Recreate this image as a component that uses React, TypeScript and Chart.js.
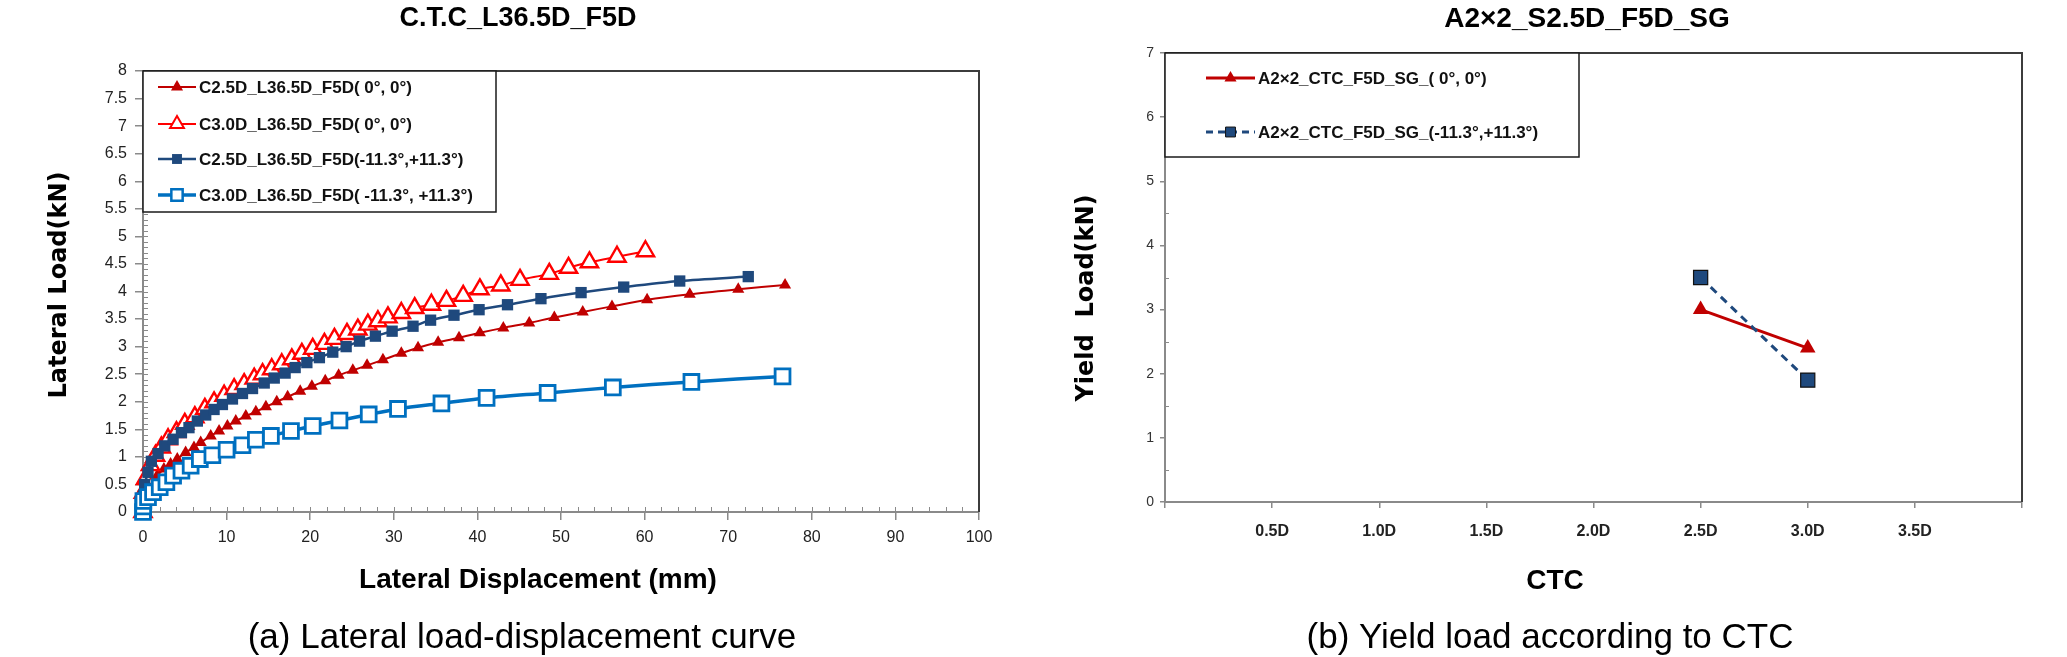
import React, { useEffect, useRef } from 'react';
import { Chart, registerables } from 'chart.js';

Chart.register(...registerables);

// ---- (a) lateral load–displacement curves: displacement (mm) / load (kN) ----
const seriesLabelsA = [
  'C2.5D_L36.5D_F5D( 0°, 0°)',
  'C3.0D_L36.5D_F5D( 0°, 0°)',
  'C2.5D_L36.5D_F5D(-11.3°,+11.3°)',
  'C3.0D_L36.5D_F5D( -11.3°, +11.3°)',
];

const dispC25Flat = [0, 0.05, 0.2, 0.5, 1.1, 1.7, 2.5, 3.3, 4.1, 5.1, 6.1, 6.9, 8.1, 9.1, 10.1, 11.1, 12.3, 13.5, 14.7, 16.0, 17.3, 18.8, 20.2, 21.8, 23.4, 25.1, 26.8, 28.7, 30.9, 32.9, 35.3, 37.8, 40.3, 43.1, 46.2, 49.2, 52.6, 56.1, 60.3, 65.4, 71.2, 76.8];
const loadC25Flat = [0, 0.18, 0.30, 0.42, 0.54, 0.66, 0.78, 0.87, 0.96, 1.08, 1.17, 1.26, 1.38, 1.47, 1.56, 1.65, 1.74, 1.82, 1.91, 2.00, 2.09, 2.19, 2.28, 2.38, 2.48, 2.57, 2.66, 2.76, 2.88, 2.98, 3.08, 3.16, 3.25, 3.34, 3.43, 3.53, 3.63, 3.73, 3.85, 3.95, 4.04, 4.12];

const dispC30Flat = [0, 0.05, 0.3, 0.9, 1.5, 2.2, 3.0, 4.0, 5.0, 6.2, 7.4, 8.5, 9.7, 10.9, 12.1, 13.3, 14.3, 15.4, 16.6, 17.8, 19.0, 20.3, 21.7, 22.9, 24.4, 25.7, 26.9, 28.1, 29.3, 30.9, 32.5, 34.5, 36.3, 38.3, 40.3, 42.8, 45.1, 48.6, 50.9, 53.4, 56.7, 60.1];
const loadC30Flat = [0, 0.35, 0.60, 0.85, 1.02, 1.17, 1.32, 1.45, 1.60, 1.72, 1.87, 1.99, 2.11, 2.23, 2.32, 2.42, 2.50, 2.59, 2.68, 2.77, 2.87, 2.96, 3.05, 3.14, 3.23, 3.31, 3.40, 3.46, 3.53, 3.61, 3.70, 3.76, 3.83, 3.92, 4.04, 4.11, 4.21, 4.32, 4.43, 4.53, 4.63, 4.73];

const dispC25Tilt = [0, 0.02, 0.05, 0.2, 0.6, 1.0, 1.8, 2.6, 3.6, 4.6, 5.5, 6.5, 7.5, 8.5, 9.5, 10.7, 11.9, 13.1, 14.5, 15.7, 17.0, 18.2, 19.6, 21.1, 22.7, 24.3, 25.9, 27.8, 29.8, 32.3, 34.4, 37.2, 40.2, 43.6, 47.6, 52.4, 57.5, 64.2, 72.4];
const loadC25Tilt = [0, 0.15, 0.30, 0.50, 0.72, 0.92, 1.06, 1.20, 1.32, 1.44, 1.53, 1.65, 1.76, 1.86, 1.95, 2.05, 2.15, 2.24, 2.34, 2.43, 2.52, 2.62, 2.71, 2.80, 2.90, 3.00, 3.10, 3.19, 3.28, 3.37, 3.48, 3.57, 3.67, 3.76, 3.87, 3.98, 4.08, 4.19, 4.27];

const dispC30Tilt = [0, 0.02, 0.05, 0.6, 1.2, 2.0, 2.8, 3.6, 4.6, 5.7, 6.8, 8.3, 10.0, 11.9, 13.5, 15.3, 17.7, 20.3, 23.5, 27.0, 30.5, 35.7, 41.1, 48.4, 56.2, 65.6, 76.5];
const loadC30Tilt = [0, 0.10, 0.20, 0.27, 0.36, 0.45, 0.54, 0.66, 0.75, 0.84, 0.96, 1.03, 1.13, 1.21, 1.31, 1.38, 1.47, 1.56, 1.66, 1.77, 1.87, 1.97, 2.07, 2.16, 2.26, 2.36, 2.46];

// ---- (b) yield load versus centre-to-centre spacing ----
const seriesLabelsB = ['A2×2_CTC_F5D_SG_( 0°, 0°)', 'A2×2_CTC_F5D_SG_(-11.3°,+11.3°)'];
const ctcSpacing = [2.5, 3.0];
const yieldFlat = [3.0, 2.4];
const yieldTilt = [3.5, 1.9];

const FONT = "'Liberation Sans', Arial, sans-serif";
const HEAVY = "'DejaVu Sans', Verdana, sans-serif";

const DARK_RED = '#c00000';
const RED = '#ff0000';
const NAVY = '#1f497d';
const BLUE = '#0070c0';

const zip = (xs: number[], ys: number[]) => xs.map((x, i) => ({ x, y: ys[i] }));

type Marker = 'triangle' | 'rect';

function drawMarker(ctx: CanvasRenderingContext2D, kind: Marker, x: number, y: number, r: number, fill: string, stroke: string, lw: number) {
  ctx.save();
  ctx.beginPath();
  if (kind === 'triangle') {
    const dx = r * Math.sin(Math.PI / 3);
    const dy = r * Math.cos(Math.PI / 3);
    ctx.moveTo(x - dx, y + dy);
    ctx.lineTo(x, y - r);
    ctx.lineTo(x + dx, y + dy);
    ctx.closePath();
  } else {
    const s = r * Math.SQRT1_2;
    ctx.rect(x - s, y - s, 2 * s, 2 * s);
  }
  ctx.fillStyle = fill;
  ctx.fill();
  if (lw > 0) {
    ctx.lineWidth = lw;
    ctx.strokeStyle = stroke;
    ctx.stroke();
  }
  ctx.restore();
}

type TextSpec = { text: string; x: number; y: number; font: string; rotate?: boolean; color?: string };
type LegendItem = { label: string; color: string; lineWidth: number; dash: number[]; marker: Marker; fill: string; stroke: string; radius: number; markerLine: number };
type LegendSpec = { box: [number, number, number, number]; rows: number[]; lineX: [number, number]; textX: number; font: string; items: LegendItem[] };
type MinorSpec = { axis: 'x' | 'y'; from: number; to: number; step: number; len: number };

const decorPlugin = (minors: MinorSpec[], legend: LegendSpec, texts: TextSpec[]) => ({
  id: 'decor',
  beforeDatasetsDraw(chart: any) {
    const { ctx, chartArea: a, scales } = chart;
    ctx.save();
    ctx.strokeStyle = '#8a8a8a';
    ctx.lineWidth = 1;
    minors.forEach((m) => {
      const sc = scales[m.axis];
      const n = Math.round((m.to - m.from) / m.step);
      for (let i = 0; i <= n; i++) {
        const p = Math.round(sc.getPixelForValue(m.from + i * m.step)) + 0.5;
        ctx.beginPath();
        if (m.axis === 'y') {
          ctx.moveTo(a.left, p);
          ctx.lineTo(a.left + m.len, p);
        } else {
          ctx.moveTo(p, a.bottom);
          ctx.lineTo(p, a.bottom - m.len);
        }
        ctx.stroke();
      }
    });
    ctx.strokeStyle = '#3c3c3c';
    ctx.lineWidth = 2;
    ctx.beginPath();
    ctx.moveTo(a.left, a.top);
    ctx.lineTo(a.right, a.top);
    ctx.lineTo(a.right, a.bottom);
    ctx.stroke();
    ctx.restore();
  },
  afterDraw(chart: any) {
    const ctx: CanvasRenderingContext2D = chart.ctx;
    // legend box
    const [l, t, r, b] = legend.box;
    ctx.save();
    ctx.fillStyle = '#ffffff';
    ctx.fillRect(l, t, r - l, b - t);
    ctx.strokeStyle = '#1a1a1a';
    ctx.lineWidth = 1.5;
    ctx.strokeRect(l, t, r - l, b - t);
    legend.items.forEach((it, i) => {
      const y = legend.rows[i];
      ctx.save();
      ctx.strokeStyle = it.color;
      ctx.lineWidth = it.lineWidth;
      ctx.setLineDash(it.dash);
      ctx.beginPath();
      ctx.moveTo(legend.lineX[0], y);
      ctx.lineTo(legend.lineX[1], y);
      ctx.stroke();
      ctx.restore();
      drawMarker(ctx, it.marker, (legend.lineX[0] + legend.lineX[1]) / 2, y, it.radius, it.fill, it.stroke, it.markerLine);
      ctx.font = legend.font;
      ctx.fillStyle = '#111';
      ctx.textAlign = 'left';
      ctx.textBaseline = 'middle';
      ctx.fillText(it.label, legend.textX, y + 1);
    });
    ctx.restore();
    // titles and captions
    texts.forEach((tx) => {
      ctx.save();
      ctx.font = tx.font;
      ctx.fillStyle = tx.color ?? '#000';
      ctx.textAlign = 'center';
      ctx.textBaseline = 'middle';
      ctx.translate(tx.x, tx.y);
      if (tx.rotate) ctx.rotate(-Math.PI / 2);
      ctx.fillText(tx.text, 0, 0);
      ctx.restore();
    });
  },
});

const plainNumber = (v: any) => String(Number(v));

function LoadDisplacementChart() {
  const ref = useRef<HTMLCanvasElement>(null);
  useEffect(() => {
    const canvas = ref.current!;
    const legend: LegendSpec = {
      box: [143, 71, 496, 212],
      rows: [87, 124, 159, 195],
      lineX: [158, 196],
      textX: 199,
      font: `bold 17px ${FONT}`,
      items: [
        { label: seriesLabelsA[0], color: DARK_RED, lineWidth: 2, dash: [], marker: 'triangle', fill: DARK_RED, stroke: DARK_RED, radius: 7, markerLine: 0 },
        { label: seriesLabelsA[1], color: RED, lineWidth: 2, dash: [], marker: 'triangle', fill: '#fff', stroke: RED, radius: 8, markerLine: 2 },
        { label: seriesLabelsA[2], color: NAVY, lineWidth: 2.5, dash: [], marker: 'rect', fill: NAVY, stroke: NAVY, radius: 7, markerLine: 0 },
        { label: seriesLabelsA[3], color: BLUE, lineWidth: 3.5, dash: [], marker: 'rect', fill: '#fff', stroke: BLUE, radius: 8, markerLine: 2.5 },
      ],
    };
    const texts: TextSpec[] = [
      { text: 'C.T.C_L36.5D_F5D', x: 518, y: 19, font: `bold 27px ${FONT}` },
      { text: 'Lateral Load(kN)', x: 60, y: 285, font: `bold 24px ${HEAVY}`, rotate: true },
      { text: 'Lateral Displacement (mm)', x: 538, y: 580, font: `bold 28px ${FONT}` },
      { text: '(a) Lateral load-displacement curve', x: 522, y: 638, font: `35px ${FONT}` },
    ];
    const minors: MinorSpec[] = [
      { axis: 'y', from: 0, to: 8, step: 0.1, len: 5 },
      { axis: 'x', from: 0, to: 100, step: 2, len: 5 },
    ];
    const chart = new Chart(canvas, {
      type: 'line',
      data: {
        datasets: [
          { label: seriesLabelsA[0], data: zip(dispC25Flat, loadC25Flat), borderColor: DARK_RED, backgroundColor: DARK_RED, borderWidth: 2, pointStyle: 'triangle', pointRadius: 7, pointBorderWidth: 0, pointBackgroundColor: DARK_RED, pointBorderColor: DARK_RED, tension: 0.3, order: 4 },
          { label: seriesLabelsA[1], data: zip(dispC30Flat, loadC30Flat), borderColor: RED, backgroundColor: '#fff', borderWidth: 2, pointStyle: 'triangle', pointRadius: 10, pointBorderWidth: 2.4, pointBackgroundColor: '#fff', pointBorderColor: RED, tension: 0.3, order: 3 },
          { label: seriesLabelsA[2], data: zip(dispC25Tilt, loadC25Tilt), borderColor: NAVY, backgroundColor: NAVY, borderWidth: 2.5, pointStyle: 'rect', pointRadius: 8, pointBorderWidth: 0, pointBackgroundColor: NAVY, pointBorderColor: NAVY, tension: 0.3, order: 2 },
          { label: seriesLabelsA[3], data: zip(dispC30Tilt, loadC30Tilt), borderColor: BLUE, backgroundColor: '#fff', borderWidth: 3.5, pointStyle: 'rect', pointRadius: 10.5, pointBorderWidth: 2.8, pointBackgroundColor: '#fff', pointBorderColor: BLUE, tension: 0.3, order: 1 },
        ] as any,
      },
      options: {
        responsive: false,
        animation: false,
        devicePixelRatio: 1,
        clip: false as any,
        layout: { padding: { top: 71, right: 51, left: 0, bottom: 0 } },
        plugins: { legend: { display: false }, title: { display: false }, tooltip: { enabled: false } },
        scales: {
          x: {
            type: 'linear', min: 0, max: 100,
            afterFit: (s: any) => { s.height = 145; },
            ticks: { stepSize: 10, callback: plainNumber, color: '#222', padding: 8, font: { family: FONT, size: 16 }, maxRotation: 0 },
            grid: { drawOnChartArea: false, drawTicks: true, tickLength: 8, color: '#8a8a8a', lineWidth: 1.5 },
            border: { color: '#8a8a8a', width: 2 },
          },
          y: {
            type: 'linear', min: 0, max: 8,
            afterFit: (s: any) => { s.width = 143; },
            ticks: { stepSize: 0.5, callback: plainNumber, color: '#222', padding: 8, font: { family: FONT, size: 16 } },
            grid: { drawOnChartArea: false, drawTicks: true, tickLength: 8, color: '#8a8a8a', lineWidth: 1.5 },
            border: { color: '#8a8a8a', width: 2 },
          },
        },
      } as any,
      plugins: [decorPlugin(minors, legend, texts)],
    });
    return () => chart.destroy();
  }, []);
  return <canvas ref={ref} width={1030} height={657} style={{ position: 'absolute', left: 0, top: 0, width: 1030, height: 657 }} />;
}

function YieldLoadChart() {
  const ref = useRef<HTMLCanvasElement>(null);
  useEffect(() => {
    const canvas = ref.current!;
    const legend: LegendSpec = {
      box: [135, 53, 549, 157],
      rows: [78, 132],
      lineX: [176, 225],
      textX: 228,
      font: `bold 17px ${FONT}`,
      items: [
        { label: seriesLabelsB[0], color: DARK_RED, lineWidth: 3, dash: [], marker: 'triangle', fill: DARK_RED, stroke: DARK_RED, radius: 7, markerLine: 0 },
        { label: seriesLabelsB[1], color: NAVY, lineWidth: 3, dash: [7, 5], marker: 'rect', fill: NAVY, stroke: '#111', radius: 7, markerLine: 1 },
      ],
    };
    const texts: TextSpec[] = [
      { text: 'A2×2_S2.5D_F5D_SG', x: 557, y: 19, font: `bold 28px ${FONT}` },
      { text: 'Yield  Load(kN)', x: 57, y: 298, font: `bold 24px ${HEAVY}`, rotate: true },
      { text: 'CTC', x: 525, y: 581, font: `bold 28px ${FONT}` },
      { text: '(b) Yield load according to CTC', x: 520, y: 638, font: `35px ${FONT}` },
    ];
    const minors: MinorSpec[] = [{ axis: 'y', from: 0.5, to: 6.5, step: 1, len: 4 }];
    const chart = new Chart(canvas, {
      type: 'line',
      data: {
        datasets: [
          { label: seriesLabelsB[0], data: zip(ctcSpacing, yieldFlat), borderColor: DARK_RED, backgroundColor: DARK_RED, borderWidth: 3, pointStyle: 'triangle', pointRadius: 9, pointBorderWidth: 0, pointBackgroundColor: DARK_RED, pointBorderColor: DARK_RED, order: 2 },
          { label: seriesLabelsB[1], data: zip(ctcSpacing, yieldTilt), borderColor: NAVY, backgroundColor: NAVY, borderWidth: 3, borderDash: [8, 6], pointStyle: 'rect', pointRadius: 10, pointBorderWidth: 1.2, pointBackgroundColor: NAVY, pointBorderColor: '#111', order: 1 },
        ] as any,
      },
      options: {
        responsive: false,
        animation: false,
        devicePixelRatio: 1,
        clip: false as any,
        layout: { padding: { top: 53, right: 45, left: 0, bottom: 0 } },
        plugins: { legend: { display: false }, title: { display: false }, tooltip: { enabled: false } },
        scales: {
          x: {
            type: 'linear', min: 0, max: 4,
            afterFit: (s: any) => { s.height = 155; },
            ticks: {
              stepSize: 0.5, color: '#222', padding: 14, maxRotation: 0,
              font: { family: FONT, size: 16, weight: 'bold' },
              callback: (v: any) => (Number(v) === 0 || Number(v) === 4 ? '' : `${Number(v).toFixed(1)}D`),
            },
            grid: { drawOnChartArea: false, drawTicks: true, tickLength: 6, color: '#8a8a8a', lineWidth: 1.5 },
            border: { color: '#8a8a8a', width: 2 },
          },
          y: {
            type: 'linear', min: 0, max: 7,
            afterFit: (s: any) => { s.width = 135; },
            ticks: { stepSize: 1, callback: plainNumber, color: '#333', padding: 6, font: { family: FONT, size: 14 } },
            grid: { drawOnChartArea: false, drawTicks: true, tickLength: 5, color: '#8a8a8a', lineWidth: 1.5 },
            border: { color: '#8a8a8a', width: 2 },
          },
        },
      } as any,
      plugins: [decorPlugin(minors, legend, texts)],
    });
    return () => chart.destroy();
  }, []);
  return <canvas ref={ref} width={1037} height={657} style={{ position: 'absolute', left: 1030, top: 0, width: 1037, height: 657 }} />;
}

export default function App() {
  return (
    <div style={{ position: 'absolute', left: 0, top: 0, width: 2067, height: 657, background: '#fff', overflow: 'hidden' }}>
      <LoadDisplacementChart />
      <YieldLoadChart />
    </div>
  );
}
